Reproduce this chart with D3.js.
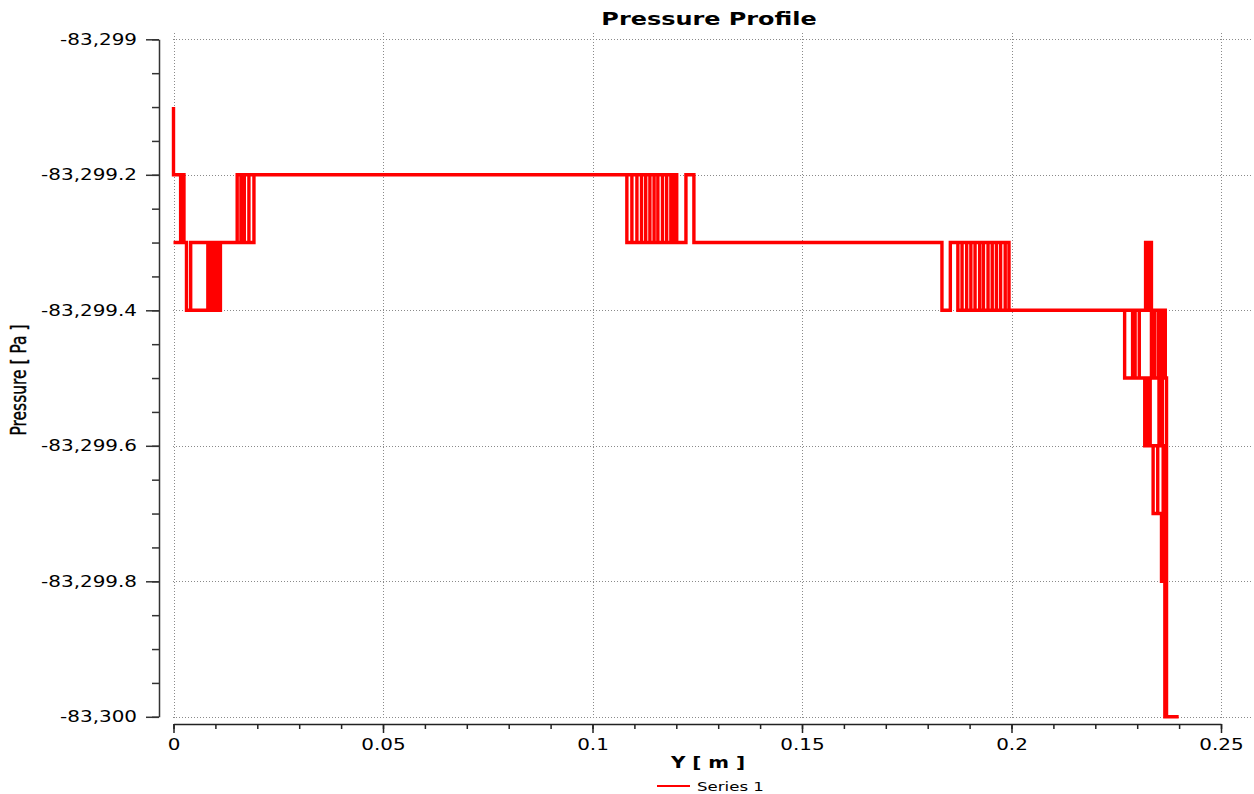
<!DOCTYPE html>
<html>
<head>
<meta charset="utf-8">
<script src="https://cdn.jsdelivr.net/npm/d3@7"></script>
<style>
  html, body { margin: 0; padding: 0; background: #fff; }
  svg { display: block; }
  text { font-family: "DejaVu Sans", Verdana, sans-serif; fill: #000; }
</style>
</head>
<body>
<svg id="chart" width="1254" height="794"></svg>
<script>
// Axis ticks and labels
const xTickValues = [0, 0.05, 0.1, 0.15, 0.2, 0.25];
const xTickLabels = ["0", "0.05", "0.1", "0.15", "0.2", "0.25"];
const yTickValues = [-83300, -83299.8, -83299.6, -83299.4, -83299.2, -83299];
const yTickLabels = ["-83,300", "-83,299.8", "-83,299.6", "-83,299.4", "-83,299.2", "-83,299"];

// Pressure along the line, [Y position (m), pressure (Pa)], in sampling order
const nearWall = [
  [0, -83299.1], [0, -83299.2], [0.0025, -83299.2], [0.0025, -83299.3], [0, -83299.3],
  [0.0017, -83299.3], [0.0017, -83299.2], [0.0017, -83299.3],
  [0.0031, -83299.3], [0.0031, -83299.4], [0.0112, -83299.4], [0.0112, -83299.3],
  [0.0104, -83299.3], [0.0104, -83299.4], [0.0097, -83299.4], [0.0097, -83299.3],
  [0.0089, -83299.3], [0.0089, -83299.4], [0.0082, -83299.4], [0.0082, -83299.3],
  [0.0041, -83299.3], [0.0041, -83299.4], [0.0041, -83299.3],
  [0.0192, -83299.3], [0.0192, -83299.2], [0.0180, -83299.2], [0.0180, -83299.3],
  [0.0169, -83299.3], [0.0169, -83299.2], [0.0161, -83299.2], [0.0161, -83299.3],
  [0.0152, -83299.3], [0.0152, -83299.2]
];

const firstStep = [
  [0.1201, -83299.2], [0.1201, -83299.3], [0.1082, -83299.3], [0.1082, -83299.2],
  [0.1094, -83299.2], [0.1094, -83299.3], [0.1106, -83299.3], [0.1106, -83299.2],
  [0.1117, -83299.2], [0.1117, -83299.3], [0.1127, -83299.3], [0.1127, -83299.2],
  [0.1137, -83299.2], [0.1137, -83299.3], [0.1147, -83299.3], [0.1147, -83299.2],
  [0.1156, -83299.2], [0.1156, -83299.3], [0.1167, -83299.3], [0.1167, -83299.2],
  [0.1177, -83299.2], [0.1177, -83299.3], [0.1187, -83299.3], [0.1187, -83299.2],
  [0.1195, -83299.2], [0.1195, -83299.3],
  [0.1223, -83299.3], [0.1223, -83299.2], [0.1242, -83299.2], [0.1242, -83299.3]
];

const secondStep = [
  [0.1834, -83299.3], [0.1834, -83299.4], [0.1854, -83299.4], [0.1854, -83299.3],
  [0.1994, -83299.3], [0.1994, -83299.4], [0.1872, -83299.4],
  [0.1872, -83299.3], [0.1882, -83299.3], [0.1882, -83299.4], [0.1893, -83299.4], [0.1893, -83299.3],
  [0.1903, -83299.3], [0.1903, -83299.4], [0.1913, -83299.4], [0.1913, -83299.3],
  [0.1924, -83299.3], [0.1924, -83299.4], [0.1933, -83299.4], [0.1933, -83299.3],
  [0.1944, -83299.3], [0.1944, -83299.4], [0.1954, -83299.4], [0.1954, -83299.3],
  [0.1964, -83299.3], [0.1964, -83299.4], [0.1974, -83299.4], [0.1974, -83299.3],
  [0.1985, -83299.3], [0.1985, -83299.4]
];

const outletDrop = [
  [0.2367, -83299.4], [0.2367, -83299.5], [0.2270, -83299.5], [0.2270, -83299.4],
  [0.2289, -83299.4], [0.2289, -83299.5], [0.2295, -83299.5], [0.2295, -83299.4],
  [0.2305, -83299.4], [0.2305, -83299.5], [0.2305, -83299.4],
  [0.2320, -83299.4], [0.2320, -83299.3], [0.2327, -83299.3], [0.2327, -83299.4],
  [0.2327, -83299.3], [0.2334, -83299.3], [0.2334, -83299.5],
  [0.2342, -83299.5], [0.2342, -83299.4], [0.2351, -83299.4], [0.2351, -83299.5],
  [0.2359, -83299.5], [0.2359, -83299.4], [0.2359, -83299.5],
  [0.2318, -83299.5], [0.2318, -83299.6], [0.2370, -83299.6], [0.2370, -83299.5],
  [0.2360, -83299.5], [0.2360, -83299.6], [0.2352, -83299.6], [0.2352, -83299.5],
  [0.2331, -83299.5], [0.2331, -83299.6], [0.2325, -83299.6], [0.2325, -83299.5], [0.2325, -83299.6],
  [0.2338, -83299.6], [0.2338, -83299.7], [0.2362, -83299.7], [0.2362, -83299.6],
  [0.2349, -83299.6], [0.2349, -83299.7], [0.2349, -83299.6],
  [0.2370, -83299.6], [0.2370, -83299.8], [0.2358, -83299.8], [0.2358, -83299.7],
  [0.2366, -83299.7], [0.2366, -83300], [0.2370, -83300], [0.2370, -83299.8],
  [0.2370, -83300], [0.2399, -83300]
];

const profile = [...nearWall, ...firstStep, ...secondStep, ...outletDrop];

const svg = d3.select("#chart");
const STRETCH = 1.33;   // wide glyphs used throughout the chart

const x = d3.scaleLinear().domain([0, 0.25]).range([173.5, 1221]);
const y = d3.scaleLinear().domain([-83300, -83299]).range([716.8, 39.3]);

// Dotted grid
const grid = svg.append("g").attr("stroke", "#8a8a8a").attr("stroke-width", 1)
  .attr("stroke-dasharray", "1 2").attr("fill", "none");
grid.selectAll("line.h").data(yTickValues).join("line").attr("class", "h")
  .attr("x1", 173).attr("x2", 1252)
  .attr("y1", d => Math.round(y(d)) + 0.5).attr("y2", d => Math.round(y(d)) + 0.5);
grid.selectAll("line.v").data(xTickValues).join("line").attr("class", "v")
  .attr("x1", d => Math.round(x(d)) + 0.5).attr("x2", d => Math.round(x(d)) + 0.5)
  .attr("y1", 33).attr("y2", 720);

// Pressure line
const line = d3.line().x(d => x(d[0])).y(d => y(d[1]));
svg.append("path").datum(profile)
  .attr("d", line)
  .attr("fill", "none")
  .attr("stroke", "#ff0000")
  .attr("stroke-width", 3.4)
  .attr("stroke-linejoin", "miter")
  .attr("stroke-linecap", "butt");

// Y axis
const yAxisG = svg.append("g").attr("transform", "translate(159,0)");
yAxisG.call(d3.axisLeft(y).tickValues(yTickValues)
  .tickFormat((d, i) => yTickLabels[i]).tickSize(13).tickSizeOuter(0));
yAxisG.append("g").call(d3.axisLeft(y).tickValues(y.ticks(20)).tickSize(7).tickFormat(""))
  .select(".domain").remove();
yAxisG.selectAll(".domain, .tick line").attr("stroke", "#333").attr("stroke-width", 1.5);
yAxisG.selectAll(".tick text")
  .attr("x", -22 / STRETCH)
  .attr("transform", `scale(${STRETCH},1)`)
  .attr("font-size", 15)
  .attr("font-family", "DejaVu Sans, Verdana, sans-serif")
  .attr("fill", "#111");

// X axis
const xAxisG = svg.append("g").attr("transform", "translate(0,724)");
xAxisG.call(d3.axisBottom(x).tickValues(xTickValues)
  .tickFormat((d, i) => xTickLabels[i]).tickSize(9).tickSizeOuter(0));
xAxisG.append("g").call(d3.axisBottom(x).tickValues(x.ticks(25)).tickSize(5).tickFormat(""))
  .select(".domain").remove();
xAxisG.selectAll(".domain, .tick line").attr("stroke", "#222").attr("stroke-width", 1.5);
xAxisG.selectAll(".tick text")
  .attr("y", 26).attr("dy", null)
  .attr("transform", `scale(${STRETCH},1)`)
  .attr("font-size", 15)
  .attr("font-family", "DejaVu Sans, Verdana, sans-serif")
  .attr("fill", "#111");

// Title
svg.append("text")
  .attr("transform", `translate(709,25) scale(${STRETCH},1)`)
  .attr("text-anchor", "middle").attr("font-size", 18).attr("font-weight", "bold")
  .text("Pressure Profile");

// Axis titles
svg.append("text")
  .attr("transform", `translate(708,768) scale(${STRETCH},1)`)
  .attr("text-anchor", "middle").attr("font-size", 15).attr("font-weight", "bold")
  .text("Y [ m ]");

svg.append("text")
  .attr("transform", `translate(19,380) scale(${STRETCH},1) rotate(-90)`)
  .attr("text-anchor", "middle").attr("dy", "0.35em").attr("font-size", 15.5)
  .attr("stroke", "#000").attr("stroke-width", 0.3)
  .text("Pressure [ Pa ]");

// Legend
const legend = svg.append("g");
legend.append("line").attr("x1", 657).attr("x2", 690).attr("y1", 786).attr("y2", 786)
  .attr("stroke", "#ff0000").attr("stroke-width", 2);
legend.append("text")
  .attr("transform", `translate(697,790.5) scale(${STRETCH},1)`)
  .attr("font-size", 12.5)
  .text("Series 1");
</script>
</body>
</html>
